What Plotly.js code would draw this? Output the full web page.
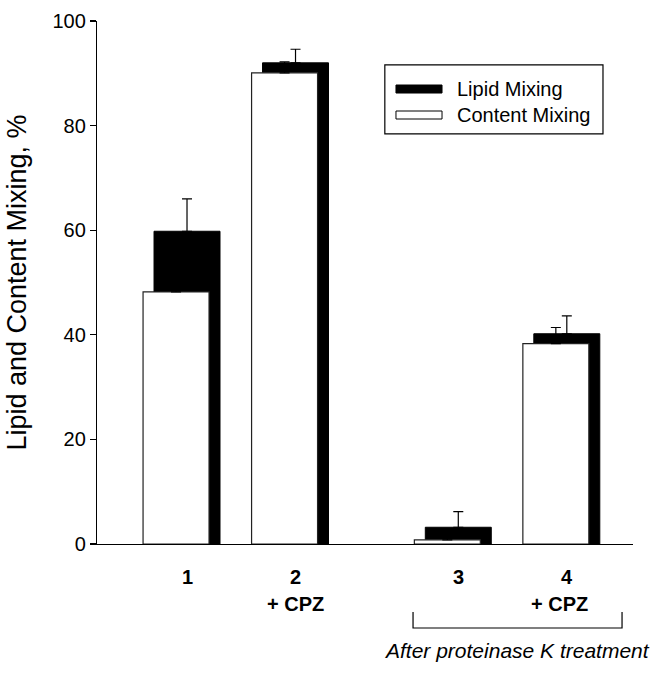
<!DOCTYPE html>
<html>
<head>
<meta charset="utf-8">
<script src="https://cdn.plot.ly/plotly-3.0.1.min.js"></script>
<style>html,body{margin:0;padding:0;background:#fff;}#chart{width:652px;height:679px;}</style>
</head>
<body>
<div id="chart"></div>
<script>
// ---- data ----
const groupLabels = ['1', '2', '3', '4'];
const groupSubLabels = ['', '+ CPZ', '', '+ CPZ'];
const lipidName = 'Lipid Mixing';
const contentName = 'Content Mixing';
const lipidMixing = [59.8, 92.0, 3.2, 40.2];
const lipidErr = [6.2, 2.6, 3.0, 3.4];
const contentMixing = [48.2, 90.1, 0.8, 38.3];
const contentErr = [4.0, 2.1, 0.8, 3.1];
const bracketLabel = 'After proteinase K treatment';
const yTitle = 'Lipid and Content Mixing, %';
const yTicks = [0, 20, 40, 60, 80, 100];

// ---- layout constants ----
const slotX = [1, 2, 3.5, 4.5];
const barW = 0.608;
const offset = 0.101;
const FONT = 'Liberation Sans, Arial, sans-serif';

const lipidTrace = {
  type: 'bar', name: lipidName, x: slotX, y: lipidMixing, width: barW,
  marker: {color: '#000', line: {color: '#000', width: 1}},
  error_y: {type: 'data', symmetric: false, array: lipidErr, arrayminus: lipidErr.map(() => 0),
            color: '#000', thickness: 1.2, width: 5},
  showlegend: false, hoverinfo: 'skip'
};
const contentTrace = {
  type: 'bar', name: contentName, x: slotX.map(v => v - offset), y: contentMixing, width: barW,
  marker: {color: '#fff', line: {color: '#222', width: 1.2}},
  error_y: {type: 'data', symmetric: false, array: contentErr, arrayminus: contentErr.map(() => 0),
            color: '#000', thickness: 1.2, width: 5},
  showlegend: false, hoverinfo: 'skip'
};

const annotations = [];
groupLabels.forEach((t, i) => {
  annotations.push({x: slotX[i], xref: 'x', y: 0, yref: 'paper', text: '<b>' + t + '</b>', showarrow: false,
    yanchor: 'middle', yshift: -33, font: {family: FONT, size: 20, color: '#000'}});
  if (groupSubLabels[i]) {
    annotations.push({x: slotX[i], xref: 'x', y: 0, yref: 'paper', text: '<b>' + groupSubLabels[i] + '</b>', showarrow: false,
      yanchor: 'middle', yshift: -60, xshift: i === 3 ? -7 : 0, font: {family: FONT, size: 20, color: '#000'}});
  }
});
annotations.push({x: 4.04, xref: 'x', y: -0.2027, yref: 'paper', text: '<i>' + bracketLabel + '</i>', showarrow: false,
  yanchor: 'middle', font: {family: FONT, size: 21, color: '#000'}});
// legend texts
annotations.push({x: 0.668, xref: 'paper', y: 0.8693, yref: 'paper', text: lipidName, showarrow: false,
  xanchor: 'left', yanchor: 'middle', font: {family: FONT, size: 20, color: '#000'}});
annotations.push({x: 0.668, xref: 'paper', y: 0.8203, yref: 'paper', text: contentName, showarrow: false,
  xanchor: 'left', yanchor: 'middle', font: {family: FONT, size: 20, color: '#000'}});

const shapes = [
  // bracket
  {type: 'path', xref: 'x', yref: 'paper', path: 'M 3.083 -0.130 L 3.083 -0.1606 L 5.009 -0.1606 L 5.009 -0.130',
   line: {color: '#000', width: 1.2}},
  // legend box
  {type: 'rect', xref: 'paper', yref: 'paper', x0: 0.537, x1: 0.944, y0: 0.784, y1: 0.916,
   line: {color: '#000', width: 1.2}, fillcolor: '#fff', layer: 'above'},
  // legend swatches
  {type: 'rect', xref: 'paper', yref: 'paper', x0: 0.5578, x1: 0.6437, y0: 0.8623, y1: 0.8776,
   line: {color: '#000', width: 1}, fillcolor: '#000', layer: 'above'},
  {type: 'rect', xref: 'paper', yref: 'paper', x0: 0.5578, x1: 0.6437, y0: 0.8126, y1: 0.8279,
   line: {color: '#000', width: 1}, fillcolor: '#fff', layer: 'above'}
];

const layout = {
  width: 652, height: 679,
  margin: {l: 97, r: 19, t: 21, b: 135, pad: 0},
  paper_bgcolor: '#fff', plot_bgcolor: '#fff',
  barmode: 'overlay', bargap: 0,
  showlegend: false,
  font: {family: FONT, color: '#000'},
  xaxis: {range: [0.1705, 5.11], showline: true, linecolor: '#000', linewidth: 1.2, ticks: '',
          showticklabels: false, showgrid: false, zeroline: false, fixedrange: true},
  yaxis: {range: [0, 100], tickvals: yTicks, ticks: 'outside', ticklen: 6, tickwidth: 1.2, tickcolor: '#000',
          showline: true, linecolor: '#000', linewidth: 1.2, showgrid: false, zeroline: false,
          tickfont: {family: FONT, size: 20, color: '#000'},
          title: {text: yTitle, font: {family: FONT, size: 27, color: '#000'}, standoff: 18}, fixedrange: true},
  annotations: annotations,
  shapes: shapes
};

Plotly.newPlot('chart', [lipidTrace, contentTrace], layout, {staticPlot: true, displayModeBar: false});
</script>
</body>
</html>
